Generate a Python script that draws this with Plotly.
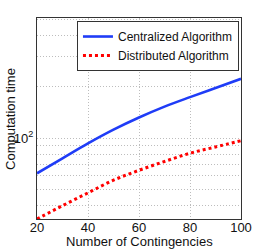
import plotly.graph_objects as go
import math

contingencies = [20, 30, 40, 50, 60, 70, 80, 90, 100]
centralized = [62, 76, 93, 112, 132, 153, 174, 197, 223]
distributed = [33.4, 40, 47.6, 56.5, 64.6, 72.8, 81.4, 88.6, 96.4]

y_major = [100]
y_major_text = ["10<sup>2</sup>"]
y_minor = [40, 50, 60, 70, 80, 90, 200, 300, 400, 500]
x_ticks = [20, 40, 60, 80, 100]

fig = go.Figure()
fig.add_trace(go.Scatter(x=contingencies, y=centralized, mode="lines",
                         name="Centralized Algorithm",
                         line=dict(color="#1f3cf7", width=2.6, shape="spline")))
fig.add_trace(go.Scatter(x=contingencies, y=distributed, mode="lines",
                         name="Distributed Algorithm",
                         line=dict(color="#ff0000", width=3, dash="dot", shape="spline")))

font = dict(family="Liberation Sans, Arial, sans-serif", color="#111111")
grid = dict(gridcolor="#bdbdbd", griddash="1px,2px", gridwidth=1)

fig.update_layout(
    width=266, height=249,
    margin=dict(l=37, r=25, t=18, b=30, autoexpand=False),
    paper_bgcolor="white", plot_bgcolor="white",
    font=dict(size=13, **font),
    showlegend=True,
    legend=dict(x=0.99, y=0.985, xanchor="right", yanchor="top",
                bgcolor="white", bordercolor="#333333", borderwidth=1,
                font=dict(size=12, **font), itemwidth=30,
                tracegroupgap=0),
    xaxis=dict(range=[20, 100], tickvals=x_ticks, showgrid=True, **grid,
               showline=True, linecolor="#333333", linewidth=1, mirror=True,
               ticks="", ticklen=0, ticklabelstandoff=-4, zeroline=False, automargin=False,
               tickfont=dict(size=13, **font)),
    yaxis=dict(type="log", range=[math.log10(33.4), math.log10(508)],
               tickvals=y_major, ticktext=y_major_text, showgrid=True, **grid,
               minor=dict(tickvals=y_minor, showgrid=True, ticks="", **grid),
               showline=True, linecolor="#333333", linewidth=1, mirror=True,
               ticks="", ticklen=0, zeroline=False, automargin=False,
               tickfont=dict(size=13, **font)),
    annotations=[
        dict(text="Number of Contingencies", xref="paper", yref="paper",
             x=0.5, y=-0.11, xanchor="center", yanchor="middle", showarrow=False,
             font=dict(size=13, **font)),
        dict(text="Computation time", xref="paper", yref="paper",
             x=-0.13, y=0.5, xanchor="center", yanchor="middle", showarrow=False,
             textangle=-90, font=dict(size=13, **font)),
    ],
)

fig.write_html("out.html", config={"displayModeBar": False},
               post_script="document.body.style.margin='0';document.body.style.padding='0';")
